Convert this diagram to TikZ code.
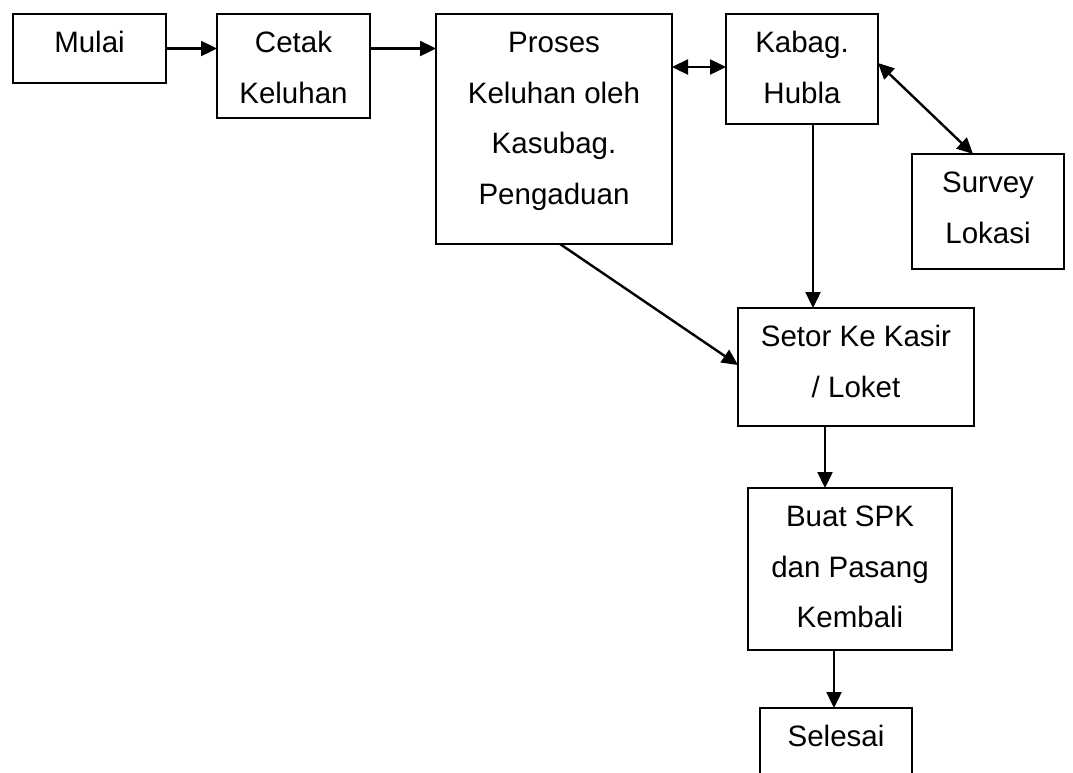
\documentclass[tikz,border=0pt]{standalone}
\usepackage{fontspec}
\setmainfont{Liberation Sans}
\usetikzlibrary{arrows.meta}
\newcommand\bxtext[3]{\parbox[c][#2][t]{#1}{\centering\rule{0pt}{38.5pt}#3\par}}
\tikzset{
  flowbox/.style={draw, line width=1.6pt, inner sep=0pt, outer sep=0pt, anchor=north west,
    font=\fontsize{29.5pt}{50.5pt}\selectfont},
  flowarrow/.style={line width=2.4pt, -{Triangle[length=16pt,width=15pt]}},
  flowboth/.style={line width=2.4pt, {Triangle[length=16pt,width=15pt]}-{Triangle[length=16pt,width=15pt]}}
}
\begin{document}
\begin{tikzpicture}[x=1pt,y=-1pt]
\path[use as bounding box, clip] (0,0) rectangle (1073,772);
\node[flowbox] (mulai) at (13,14) {\bxtext{153pt}{69pt}{Mulai}};
\node[flowbox] (cetak) at (217,14) {\bxtext{153pt}{104pt}{Cetak\\Keluhan}};
\node[flowbox] (proses) at (436,14) {\bxtext{236pt}{230pt}{Proses\\Keluhan oleh\\Kasubag.\\Pengaduan}};
\node[flowbox] (kabag) at (726,14) {\bxtext{152pt}{110pt}{Kabag.\\Hubla}};
\node[flowbox] (survey) at (912,154) {\bxtext{152pt}{115pt}{Survey\\Lokasi}};
\node[flowbox] (setor) at (738,308) {\bxtext{236pt}{118pt}{Setor Ke Kasir\\/ Loket}};
\node[flowbox] (buat) at (748,488) {\bxtext{204pt}{162pt}{Buat SPK\\dan Pasang\\Kembali}};
\node[flowbox] (selesai) at (760,708) {\bxtext{152pt}{110pt}{Selesai}};

\draw[flowarrow] (mulai.east) -- (mulai.east -| cetak.west);
\draw[flowarrow] (cetak.east |- mulai.east) -- (proses.west |- mulai.east);
\draw[flowboth] ([yshift=2pt]kabag.west -| proses.east) -- ([yshift=2pt]kabag.west);
\draw[flowboth] ([yshift=6pt]kabag.east) -- ([xshift=-15pt]survey.north);
\draw[flowarrow] ([xshift=6pt]proses.south) -- ([yshift=2pt]setor.west);
\draw[flowarrow] ([xshift=11pt]kabag.south) -- ([xshift=11pt]kabag.south |- setor.north);
\draw[flowarrow] ([xshift=-31pt]setor.south) -- ([xshift=-31pt]setor.south |- buat.north);
\draw[flowarrow] ([xshift=-2pt]selesai.north |- buat.south) -- ([xshift=-2pt]selesai.north);
\end{tikzpicture}
\end{document}
